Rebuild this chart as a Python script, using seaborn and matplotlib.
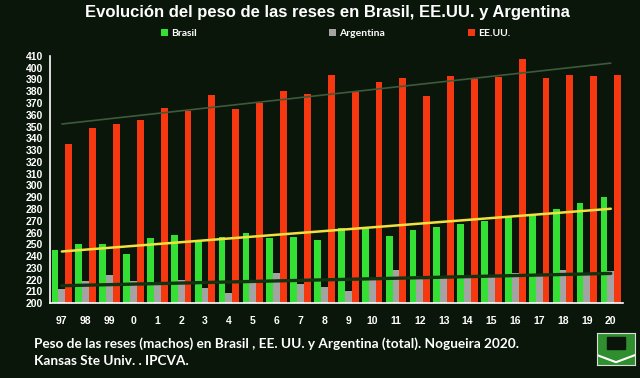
import numpy as np
import pandas as pd
import matplotlib
matplotlib.use('Agg')
import matplotlib.pyplot as plt
import seaborn as sns

# Years (two-digit labels as on the original slide)
years = ['97', '98', '99', '0', '1', '2', '3', '4', '5', '6', '7', '8',
         '9', '10', '11', '12', '13', '14', '15', '16', '17', '18', '19', '20']

# Carcass weights (kg)
brasil = [245, 250, 250, 242, 255, 258, 254, 256, 260, 255, 256, 254,
          264, 265, 257, 262, 265, 267, 270, 273, 276, 280, 285, 290]
argentina = [212, 219, 224, 219, 216, 220, 213, 209, 218, 226, 216, 214,
             210, 220, 228, 223, 222, 221, 222, 226, 224, 228, 224, 227]
eeuu = [335, 349, 352, 356, 366, 363, 377, 365, 370, 380, 378, 394,
        379, 388, 391, 376, 393, 390, 392, 407, 391, 394, 393, 394]

series = ['Brasil', 'Argentina', 'EE.UU.']
colors = ['#35e035', '#a3a3a3', '#f5380f']
bg = '#0b160b'

df = pd.DataFrame({
    'year': years * 3,
    'peso': brasil + argentina + eeuu,
    'pais': [s for s in series for _ in years],
})

sns.set_style('dark')
plt.rcParams['font.family'] = ['Liberation Sans', 'DejaVu Sans']

fig = plt.figure(figsize=(6.4, 3.78), dpi=100, facecolor=bg)
ax = fig.add_axes([0.078, 0.198, 0.895, 0.654])
ax.set_facecolor(bg)

sns.barplot(data=df, x='year', y='peso', hue='pais', hue_order=series,
            order=years, palette=colors, width=0.86, saturation=1,
            linewidth=0, ax=ax)

# linear trend lines for each country
x = np.arange(len(years))
for vals, col, lw in [(eeuu, '#3d5a3d', 1.2), (brasil, '#f0e040', 1.8),
                      (argentina, '#123212', 2.4)]:
    m, b = np.polyfit(x, vals, 1)
    ax.plot(x, m * x + b, color=col, lw=lw)

ax.set_ylim(200, 410)
ax.set_xlim(-0.5, len(years) - 0.5)
ax.set_yticks(range(200, 411, 10))
ax.set_xticks(np.arange(-0.5, len(years), 1), minor=True)
ax.tick_params(axis='x', which='major', length=0, pad=9, colors='white', labelsize=7.5)
ax.tick_params(axis='x', which='minor', length=3, color='white', width=1, direction='out')
ax.tick_params(axis='y', length=3, color='white', width=1, colors='white',
               labelsize=7.5, pad=2, direction='out')
for lab in ax.get_xticklabels() + ax.get_yticklabels():
    lab.set_fontweight('bold')
ax.set_xlabel('')
ax.set_ylabel('')
ax.grid(False)
for side in ['top', 'right']:
    ax.spines[side].set_visible(False)
for side in ['left', 'bottom']:
    ax.spines[side].set_visible(True)
    ax.spines[side].set_color('white')
    ax.spines[side].set_linewidth(1.2)

# legend entries spread across the top like the slide
handles, labels = ax.get_legend_handles_labels()
ax.legend_.remove()
for h, l, xpos in zip(handles, labels, [0.245, 0.507, 0.725]):
    fig.legend([h], [l], loc='center left', bbox_to_anchor=(xpos, 0.912),
               frameon=False, handlelength=0.7, handleheight=0.7,
               handletextpad=0.3, borderaxespad=0,
               prop={'family': 'Lato', 'weight': 'bold', 'size': 7.5},
               labelcolor='white')

fig.text(0.512, 0.968, 'Evolución del peso de las reses en Brasil, EE.UU. y Argentina',
         ha='center', va='center', color='white', fontsize=12, fontweight='bold')

fig.text(0.053, 0.092, 'Peso de las reses (machos) en Brasil , EE. UU. y Argentina (total). Nogueira 2020.',
         ha='left', va='center', color='white', fontsize=9.8, fontweight='bold', family='Lato')
fig.text(0.053, 0.044, 'Kansas Ste Univ. . IPCVA.',
         ha='left', va='center', color='white', fontsize=9.8, fontweight='bold', family='Lato')

# small logo box in the corner
logo = fig.add_axes([0.933, 0.035, 0.059, 0.085])
logo.set_facecolor('#2f8f2f')
logo.set_xlim(0, 1)
logo.set_ylim(0, 1)
logo.fill([0.25, 0.75, 0.75, 0.25], [0.5, 0.5, 0.85, 0.85], color='#0a140a')
logo.plot([0, 0.5, 1], [0.3, 0.08, 0.3], color='white', lw=1.5)
logo.set_xticks([])
logo.set_yticks([])
for s in logo.spines.values():
    s.set_color('#dddddd')

fig.savefig('out.png', dpi=100, facecolor=bg)
